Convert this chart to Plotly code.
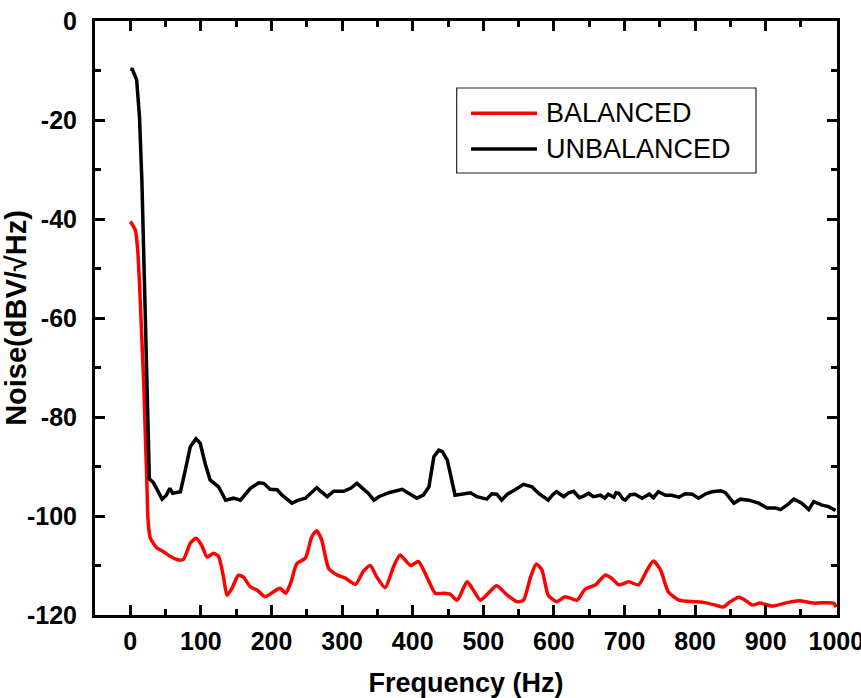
import plotly.graph_objects as go

# ---- data ----
unbal_f = [0, 3, 9, 13, 16.5, 19, 21, 23.5, 26, 27, 33, 38, 45, 51, 56, 60, 66, 71, 78, 85, 93, 99,
           106, 113, 125, 135, 146, 156, 170, 182, 189, 198, 208, 215, 229, 238, 248, 264, 279, 288,
           302, 312, 321, 328, 337, 345, 352, 366, 385, 399, 406, 415, 423, 430, 437, 442, 449, 460,
           474, 482, 491, 505, 512, 519, 526, 534, 545, 557, 569, 578, 592, 599, 604, 614, 621, 628,
           636, 642, 649, 656, 666, 672, 677, 685, 688, 692, 698, 701, 708, 715, 725, 735, 741, 748,
           758, 767, 777, 786, 796, 805, 815, 824, 836, 843, 848, 855, 864, 876, 890, 902, 914, 921,
           930, 940, 951, 961, 968, 980, 989, 999]
unbal_v = [-9.7, -9.8, -11.9, -19.3, -32.7, -46.3, -59.7, -73.2, -86.7, -92.5, -93.3, -94.6, -96.6,
           -95.8, -94.4, -95.4, -95.2, -95.1, -90.7, -86.0, -84.4, -85.3, -89.4, -92.7, -94.1, -96.8,
           -96.4, -96.8, -94.4, -93.3, -93.4, -94.6, -94.7, -95.8, -97.4, -96.8, -96.4, -94.3, -96.1,
           -95.0, -95.0, -94.4, -93.4, -94.3, -95.4, -96.8, -96.1, -95.3, -94.6, -95.8, -96.4, -95.8,
           -94.1, -88.0, -86.7, -87.0, -88.7, -95.8, -95.4, -95.3, -96.1, -96.6, -95.5, -95.6, -96.8,
           -95.6, -94.7, -93.6, -94.1, -95.4, -96.8, -95.6, -95.1, -96.1, -95.3, -95.0, -96.3, -96.0,
           -95.4, -96.1, -95.8, -96.4, -95.6, -96.2, -95.3, -95.4, -96.6, -96.8, -95.7, -95.6, -96.4,
           -95.6, -96.3, -95.1, -95.8, -95.8, -96.2, -95.5, -95.6, -96.4, -95.5, -95.1, -94.9, -95.3,
           -96.2, -97.4, -96.6, -96.8, -97.4, -98.4, -98.4, -98.7, -97.8, -96.6, -97.4, -98.7, -97.1,
           -97.8, -98.1, -98.9]

bal_f = [0, 7, 10.5, 13, 15, 17, 19, 20.5, 22, 23.5, 25, 28, 35, 38, 47, 57, 66, 75, 85, 93, 101,
         109, 118, 125, 132, 137, 144, 153, 160, 170, 180, 191, 203, 212, 220, 227, 236, 248, 257,
         264, 271, 281, 293, 304, 319, 330, 340, 349, 361, 373, 382, 397, 408, 420, 432, 444, 453,
         463, 477, 486, 496, 507, 519, 534, 548, 557, 567, 575, 583, 592, 604, 616, 633, 644, 659,
         673, 682, 692, 706, 720, 732, 741, 751, 762, 777, 800, 814, 829, 840, 850, 862, 871, 881,
         892, 909, 930, 947, 968, 987, 996, 1000]
bal_v = [-40.5, -42.2, -46.3, -53.0, -59.7, -66.5, -73.2, -80.0, -86.7, -93.4, -100.5, -104.3,
         -106.0, -106.5, -107.2, -108.2, -108.8, -108.8, -105.5, -104.5, -105.9, -108.3, -107.5,
         -108.2, -112.3, -116.0, -114.6, -112.0, -112.3, -114.3, -115.0, -116.3, -115.3, -114.6,
         -115.6, -113.6, -109.6, -108.5, -104.2, -103.0, -104.8, -110.6, -111.9, -112.5, -113.8,
         -111.2, -110.0, -112.3, -114.5, -110.2, -107.9, -110.0, -109.2, -112.3, -115.6, -115.6,
         -115.8, -117.0, -113.3, -115.0, -117.0, -115.6, -114.1, -116.0, -117.3, -117.0, -112.3,
         -109.7, -110.9, -116.0, -117.3, -116.3, -117.0, -114.8, -113.9, -111.9, -112.6, -113.9,
         -113.3, -113.9, -110.9, -109.1, -110.9, -115.3, -117.0, -117.3, -117.5, -118.0, -118.4,
         -117.3, -116.4, -117.0, -118.0, -117.6, -118.2, -117.5, -117.1, -117.6, -117.5, -117.6,
         -118.4]

series_names = ["BALANCED", "UNBALANCED"]
x_tickvals = [0, 100, 200, 300, 400, 500, 600, 700, 800, 900, 1000]
x_ticktext = ["0", "100", "200", "300", "400", "500", "600", "700", "800", "900", "1000"]
y_tickvals = [0, -20, -40, -60, -80, -100, -120]
y_ticktext = ["0", "-20", "-40", "-60", "-80", "-100", "-120"]

# ---- figure ----
W, H = 861, 698
ML, MT = 95, 21
MR = W - 837
MB = H - 615
PW, PH = W - ML - MR, H - MT - MB
BOLD = "Liberation Sans, Arial, sans-serif"

fig = go.Figure()
fig.add_trace(go.Scatter(x=bal_f, y=bal_v, mode="lines", name=series_names[0],
                         line=dict(color="#ff0000", width=3.5, shape="spline", smoothing=0.6),
                         showlegend=False))
fig.add_trace(go.Scatter(x=unbal_f, y=unbal_v, mode="lines", name=series_names[1],
                         line=dict(color="#000000", width=3.5), showlegend=False))

axis_common = dict(showline=True, linewidth=3, linecolor="black", mirror="ticks",
                   ticks="inside", tickwidth=3, tickcolor="black", showgrid=False,
                   zeroline=False, automargin=False, ticklabeloverflow="allow")

fig.update_xaxes(range=[-50, 1001], tickvals=x_tickvals, ticktext=x_ticktext, ticklen=10,
                 minor=dict(ticks="inside", dtick=50, tick0=0, ticklen=6, tickwidth=3,
                            tickcolor="black", showgrid=False),
                 tickfont=dict(family=BOLD, size=25, color="black", weight="bold"),
                 ticklabelstandoff=2,
                 title=dict(text="Frequency (Hz)", standoff=20,
                            font=dict(family=BOLD, size=27, color="black", weight="bold")),
                 **axis_common)
fig.update_yaxes(range=[-120, 0], tickvals=y_tickvals, ticktext=y_ticktext, ticklen=10,
                 minor=dict(ticks="inside", dtick=10, tick0=0, ticklen=6, tickwidth=3,
                            tickcolor="black", showgrid=False),
                 tickfont=dict(family=BOLD, size=25, color="black", weight="bold"),
                 ticklabelstandoff=10,
                 title=dict(text="Noise(dBV/√Hz)", standoff=4,
                            font=dict(family=BOLD, size=29, color="black", weight="bold")),
                 **axis_common)


def px2paper(x, y):
    return (x - ML) / PW, (H - MB - y) / PH


# legend drawn as a box with sample lines and labels
bx0, by0 = px2paper(456.7, 173)
bx1, by1 = px2paper(756, 88)
fig.add_shape(type="rect", xref="paper", yref="paper", x0=bx0, y0=by0, x1=bx1, y1=by1,
              line=dict(color="#222222", width=1.2), fillcolor="white")
for name, color, py in [(series_names[0], "#ff0000", 113.3), (series_names[1], "#000000", 149)]:
    lx0, ly = px2paper(471, py)
    lx1, _ = px2paper(537, py)
    tx, _ = px2paper(544, py)
    fig.add_shape(type="line", xref="paper", yref="paper", x0=lx0, x1=lx1, y0=ly, y1=ly,
                  line=dict(color=color, width=3.5))
    fig.add_annotation(xref="paper", yref="paper", x=tx, y=ly, text=name, showarrow=False,
                       xanchor="left", yanchor="middle",
                       font=dict(family="Liberation Sans, Arial, sans-serif", size=27,
                                 color="black"))

fig.update_layout(width=W, height=H, margin=dict(l=ML, r=MR, t=MT, b=MB),
                  plot_bgcolor="white", paper_bgcolor="white")

# remove the browser's default 8 px body margin so the figure fills the window exactly
fig.write_html("out.html", config={"displayModeBar": False},
               post_script="document.body.style.margin='0';document.body.style.overflow='hidden';")
